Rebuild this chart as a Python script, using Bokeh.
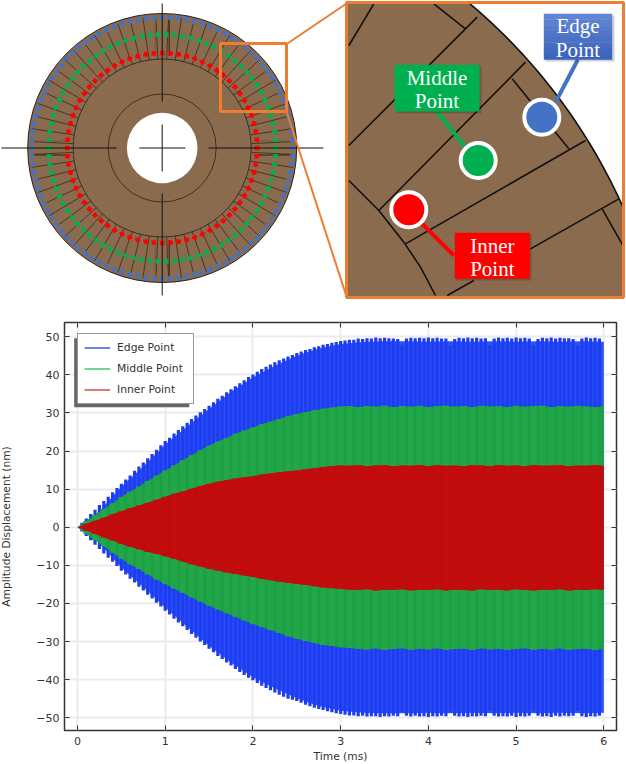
import numpy as np
from bokeh.plotting import figure
from bokeh.embed import file_html
from bokeh.resources import INLINE
from bokeh.core.properties import value
from bokeh.models import Range1d, LinearAxis, Legend, LegendItem, FixedTicker

# ---------- chart data (nm) ----------
series_names = ["Edge Point", "Middle Point", "Inner Point"]
x_ticks = [0, 1, 2, 3, 4, 5, 6]
y_ticks = [-50, -40, -30, -20, -10, 0, 10, 20, 30, 40, 50]

t_fine = np.arange(121) * 0.05
t_mid = np.arange(61) * 0.1
t_coarse = np.arange(25) * 0.25

edge_tip_up = [0,1.15,2.3,3.45,4.6,5.8,6.9,8.0,9.2,10.3,
 11.4,12.5,13.6,14.8,15.9,17.0,18.1,19.2,20.3,21.5,
 22.6,23.5,24.6,25.5,26.5,27.4,28.4,29.3,30.2,31.0,
 31.9,32.8,33.7,34.5,35.4,36.2,37.0,37.8,38.6,39.4,
 40.1,40.8,41.5,42.1,42.7,43.3,43.8,44.3,44.8,45.2,
 45.7,46.1,46.5,46.8,47.2,47.5,47.9,48.1,48.4,48.6,
 48.9,49.0,49.2,49.2,49.5,49.4,49.6,49.5,49.8,49.6,
 49.7,49.6,49.5,49.4,47.9,49.5,49.7,49.6,49.7,49.6,
 49.8,49.6,49.7,49.5,49.5,47.6,49.4,49.7,49.6,49.8,
 49.6,49.7,49.5,49.6,47.8,49.5,49.8,49.6,49.7,49.5,
 49.8,49.6,49.7,49.5,47.7,49.4,49.7,49.6,49.8,49.5,
 49.7,49.6,49.6,49.4,47.6,49.5,49.8,49.6,49.7,49.5,49.6]
edge_tip_low = [0,-1.15,-2.3,-3.4,-4.6,-5.7,-6.9,-8.0,-9.1,-10.2,
 -11.4,-12.4,-13.5,-14.5,-15.6,-16.6,-17.7,-18.7,-19.8,-20.8,
 -21.9,-22.9,-24.0,-25.0,-26.0,-27.0,-28.0,-29.0,-30.0,-30.9,
 -31.9,-32.8,-33.8,-34.6,-35.5,-36.3,-37.2,-38.0,-38.8,-39.5,
 -40.2,-40.9,-41.6,-42.2,-42.8,-43.4,-44.0,-44.5,-45.0,-45.3,
 -45.6,-46.1,-46.6,-47.0,-47.4,-47.7,-48.0,-48.3,-48.6,-48.8,
 -49.0,-49.2,-49.4,-49.4,-49.6,-49.5,-49.7,-49.6,-49.6,-49.8,
 -49.6,-49.7,-49.5,-49.6,-48.4,-49.5,-49.7,-49.5,-49.7,-49.6,
 -49.8,-49.6,-49.7,-49.5,-49.6,-48.3,-49.5,-49.7,-49.6,-49.8,
 -49.6,-49.7,-49.5,-49.6,-48.2,-49.5,-49.7,-49.6,-49.7,-49.5,
 -49.8,-49.6,-49.7,-49.5,-48.3,-49.5,-49.7,-49.6,-49.8,-49.5,
 -49.7,-49.5,-49.6,-49.5,-48.2,-49.6,-49.8,-49.6,-49.7,-49.5,-49.7]
edge_body_up = [0,4.2,10.6,15.9,21.7,26.4,31.0,35.5,39.3,42.4,45.0,46.9,48.1,48.6,48.8,
 48.8,48.7,48.8,48.7,48.8,48.7,48.8,48.7,48.8,48.7]
edge_body_low = [0,-4.2,-10.6,-15.7,-21.1,-26.1,-31.1,-35.5,-39.4,-42.3,-44.9,-46.9,-48.2,-48.7,-48.8,
 -48.8,-48.7,-48.8,-48.7,-48.8,-48.7,-48.8,-48.7,-48.8,-48.7]

middle_up = [0,1.6,3.2,4.8,6.3,7.9,9.3,10.7,12.1,13.5,
 14.9,16.2,17.6,18.9,20.2,21.4,22.5,23.4,24.5,25.4,
 26.2,27.0,27.7,28.4,29.1,29.7,30.2,30.7,31.1,31.4,
 31.7,31.8,31.5,31.8,31.6,31.9,31.5,31.8,31.6,31.9,
 31.5,31.8,31.9,31.6,31.8,31.5,31.9,31.7,31.8,31.5,
 31.9,31.6,31.8,31.9,31.5,31.8,31.6,31.9,31.7,31.5,31.8]
middle_low = [0,-1.7,-3.4,-5.0,-6.7,-8.3,-9.7,-11.0,-12.4,-13.7,
 -14.9,-16.1,-17.2,-18.4,-19.5,-20.6,-21.6,-22.6,-23.5,-24.5,
 -25.4,-26.2,-27.0,-27.8,-28.6,-29.3,-29.9,-30.4,-30.9,-31.2,
 -31.5,-31.7,-31.9,-32.1,-31.8,-32.2,-32.0,-31.8,-32.2,-31.9,
 -32.1,-31.8,-32.2,-32.0,-31.9,-32.2,-31.8,-32.1,-31.9,-32.2,
 -32.0,-31.8,-32.2,-31.9,-32.1,-31.8,-32.2,-32.0,-31.9,-32.2,-32.0]
inner_up = [0,0.9,1.7,2.5,3.4,4.2,5.0,5.7,6.4,7.2,
 8.0,8.8,9.4,10.1,10.8,11.4,11.9,12.4,12.8,13.1,
 13.4,13.8,14.1,14.4,14.7,14.9,15.2,15.5,15.8,16.0,
 16.2,16.1,16.3,16.0,16.2,16.3,16.0,16.2,16.1,16.3,
 16.0,16.3,16.1,16.2,16.0,16.3,16.2,16.0,16.3,16.1,
 16.2,16.0,16.3,16.1,16.2,16.3,16.0,16.2,16.1,16.3,16.1]
inner_low = [0,-0.9,-1.8,-2.7,-3.5,-4.4,-5.1,-5.8,-6.5,-7.0,
 -7.6,-8.3,-9.0,-9.7,-10.3,-10.9,-11.4,-11.9,-12.3,-12.7,
 -13.1,-13.5,-13.9,-14.3,-14.6,-14.9,-15.2,-15.5,-15.8,-16.0,
 -16.2,-16.4,-16.5,-16.3,-16.6,-16.4,-16.5,-16.3,-16.6,-16.4,
 -16.5,-16.3,-16.6,-16.4,-16.5,-16.6,-16.3,-16.5,-16.4,-16.6,
 -16.3,-16.5,-16.6,-16.4,-16.5,-16.3,-16.6,-16.4,-16.5,-16.3,-16.5]

# ---------- schematic (pixel space of the upper panel) ----------
BROWN = "#8B6B4E"; ORANGE = "#ED7D31"; BLUE = "#4472C4"; GREEN = "#00B050"; RED = "#FF0000"
top_h = 305
p1 = figure(width=626, height=top_h, output_backend="svg", toolbar_location=None,
            x_range=Range1d(0, 626), y_range=Range1d(top_h, 0),
            min_border=0, outline_line_color=None, x_axis_type=None, y_axis_type=None)
p1.grid.visible = False

cx, cy = 161.7, 147.5
p1.circle(x=[cx], y=[cy], radius=[134.5], fill_color=BROWN, line_color="#2a2018", line_width=1)
a = (np.arange(64) + 0.5) * 2 * np.pi / 64
p1.segment(cx + 89*np.cos(a), cy + 89*np.sin(a), cx + 132*np.cos(a), cy + 132*np.sin(a),
           line_color="#2a2018", line_width=0.7)
p1.circle(x=[cx], y=[cy], radius=[89], fill_color=BROWN, line_color="#2a2018", line_width=0.8)
p1.circle(x=[cx], y=[cy], radius=[54], fill_color=None, line_color="#2a2018", line_width=0.8)
p1.circle(x=[cx], y=[cy], radius=[35.3], fill_color="white", line_color=None)
for g_off in (-7, 7):
    p1.segment([cx+g_off]*2, [cy-130, cy+92], [cx+g_off]*2, [cy-92, cy+130], line_color="#6d5744" if g_off < 0 else "#2a2018", line_width=1)
    p1.segment([cx-130, cx+92], [cy+g_off]*2, [cx-92, cx+130], [cy+g_off]*2, line_color="#6d5744" if g_off < 0 else "#2a2018", line_width=1)
for r, n, col in ((130.5, 100, BLUE), (113.5, 86, GREEN), (95, 72, RED)):
    b = np.arange(n) * 2 * np.pi / n
    p1.scatter(cx + r*np.cos(b), cy + r*np.sin(b), marker="square", size=4.5, angle=b,
               fill_color=col, line_color=None)
p1.segment([1, 208, 139, cx, cx, cx], [cy]*3 + [3, 124, 193],
           [116, 323, 185, cx, cx, cx], [cy]*3 + [101, 171, 295], line_color="#111111", line_width=1)

# orange zoom frame and connectors
p1.line([287, 346], [43, 3], line_color=ORANGE, line_width=2)
p1.line([286, 346], [111, 296], line_color=ORANGE, line_width=2)
p1.quad(left=[346], right=[623], top=[2], bottom=[297], fill_color=BROWN, line_color=None)
ang = np.linspace(np.arcsin((439-2)/570), np.arcsin((439-208)/570), 40)
ax, ay = 102 + 570*np.cos(ang), 439 - 570*np.sin(ang)
p1.patch(list(ax) + [623], list(ay) + [2], fill_color="white", line_color=None)
p1.line(ax, ay, line_color="#111111", line_width=1.6)
inset_lines = [[(100,10),(25,135)], [(280,10),(375,85)], [(410,50),(25,435)], [(555,185),(115,630)],
               [(515,235),(685,445)], [(735,420),(195,730)], [(25,540),(115,630),(190,725),(240,800),(285,885)],
               [(835,595),(570,745)], [(785,625),(850,740)], [(400,840),(320,885)]]
for seg in inset_lines:
    p1.line([340 + q[0]/3 for q in seg], [q[1]/3 for q in seg], line_color="#111111", line_width=1.6)
p1.quad(left=[220], right=[286], top=[43], bottom=[111], fill_color=None, line_color=ORANGE, line_width=3)
p1.quad(left=[346], right=[623], top=[2], bottom=[297], fill_color=None, line_color=ORANGE, line_width=3)

# callouts
p1.segment([577.3], [59.3], [553.3], [105], line_color=BLUE, line_width=4)
p1.segment([436.7], [111], [466], [148.3], line_color=GREEN, line_width=4)
p1.segment([421.7], [223.3], [453.3], [255], line_color=RED, line_width=4)
p1.circle(x=[541.3, 477.7, 408.3], y=[116.7, 160, 209.3], radius=[17.5]*3,
          fill_color=[BLUE, GREEN, RED], line_color="white", line_width=4)
p1.quad(left=[545, 396, 456], right=[614, 481, 531], top=[15, 66, 234], bottom=[61, 113, 280],
        fill_color="#000000", fill_alpha=0.18, line_color=None)
shades = ["#5F84D2", "#5A80CF", "#557BCC", "#5076C9", "#4B71C6", "#466DC3", "#4168C0", "#3C63BD"]
for i, s in enumerate(shades):
    p1.quad(left=[543.3], right=[611.7], top=[13.3 + i*5.72], bottom=[13.3 + (i+1)*5.72 + 0.3],
            fill_color=s, line_color=None)
p1.quad(left=[394, 454.3], right=[479, 529.3], top=[64.3, 232.3], bottom=[111, 278.3],
        fill_color=[GREEN, RED], line_color=None)
p1.text(x=[577.5, 577.5, 436.5, 436.5, 491.8, 491.8], y=[25.5, 49.5, 77.5, 100.5, 245.5, 268],
        text=["Edge", "Point", "Middle", "Point", "Inner", "Point"],
        text_font=value("Liberation Serif"), text_font_size="21px", text_color="white",
        text_align="center", text_baseline="middle")

# ---------- amplitude plot ----------
xscale = 87.67; yscale = 3.81
p2 = figure(width=630, height=461, output_backend="svg", toolbar_location=None,
            x_range=Range1d(-13/xscale, (616-77.3)/xscale), y_range=Range1d((526.7-730)/yscale, (526.7-322)/yscale),
            min_border_left=68, min_border_right=10, min_border_top=322-top_h, min_border_bottom=36,
            outline_line_color="#333333", outline_line_width=1.5, margin=(0, 0, -2, -4),
            x_axis_label="Time (ms)", y_axis_label="Amplitude Displacement (nm)")
p2.xgrid.ticker = FixedTicker(ticks=x_ticks); p2.ygrid.ticker = FixedTicker(ticks=y_ticks)
for g in (p2.xgrid[0], p2.ygrid[0]):
    g.grid_line_color = "#EBEBEB"; g.grid_line_width = 2
for ax_ in (p2.xaxis[0], p2.yaxis[0]):
    ax_.axis_line_color = None
    ax_.major_tick_in = 5; ax_.major_tick_out = 0; ax_.minor_tick_line_color = None
    ax_.major_tick_line_color = "#333333"
    ax_.major_label_text_font = "DejaVu Sans"; ax_.major_label_text_font_size = "11px"
    ax_.major_label_text_color = "#333333"
    ax_.axis_label_text_font = "DejaVu Sans"; ax_.axis_label_text_font_size = "10.7px"
    ax_.axis_label_text_font_style = "normal"; ax_.axis_label_text_color = "#333333"
p2.xaxis[0].ticker = FixedTicker(ticks=x_ticks); p2.yaxis[0].ticker = FixedTicker(ticks=y_ticks)
p2.xaxis[0].major_label_standoff = 6; p2.yaxis[0].major_label_standoff = 5
p2.xaxis[0].axis_label_standoff = 2; p2.yaxis[0].axis_label_standoff = 20
for loc, tk in (("above", x_ticks), ("right", y_ticks)):
    ex = LinearAxis(ticker=FixedTicker(ticks=tk), major_label_overrides={t: "" for t in tk}, axis_line_color=None,
                    major_tick_in=5, major_tick_out=0, minor_tick_line_color=None, major_tick_line_color="#333333",
                    major_label_standoff=0)
    p2.add_layout(ex, loc)

C_BLUE = "#1E3DF2"; C_GREEN = "#21A747"; C_RED = "#C40C0C"
p2.varea(t_coarse, edge_body_low, edge_body_up, fill_color="#2C52F2")
p2.segment(t_fine[:-1], edge_tip_low[:-1], t_fine[:-1], edge_tip_up[:-1], line_color=C_BLUE, line_width=3.2)
p2.varea(t_mid, middle_low, middle_up, fill_color="#1F9F45")
p2.segment(t_mid[:-1], middle_low[:-1], t_mid[:-1], middle_up[:-1], line_color=C_GREEN, line_width=6)
p2.varea(t_mid, inner_low, inner_up, fill_color="#BC0E0E")
p2.segment(t_mid[:-1], inner_low[:-1], t_mid[:-1], inner_up[:-1], line_color=C_RED, line_width=6)

# legend shadow + legend
p2.quad(left=[-0.038], right=[1.274], top=[49.6], bottom=[31.5], fill_color="#666666", line_color=None)
k1 = p2.line(t_fine[:1], edge_tip_up[:1], line_color="#2F5FE8", line_width=1.5)
k2 = p2.line(t_mid[:1], middle_up[:1], line_color="#3CC86E", line_width=1.5)
k3 = p2.line(t_mid[:1], inner_up[:1], line_color="#D64A4A", line_width=1.5)
leg = Legend(items=[LegendItem(label=value(n), renderers=[r]) for n, r in zip(series_names, (k1, k2, k3))],
             location=(13, 326.5), orientation="vertical", border_line_color="#333333", border_line_width=1.5,
             background_fill_color="white", background_fill_alpha=1, label_text_font="DejaVu Sans",
             label_text_font_size="10.8px", label_text_color="#333333", glyph_width=26, glyph_height=15,
             label_standoff=7, spacing=6, padding=6, margin=0, label_height=15, label_width=70)
p2.add_layout(leg, "center")

open("out.html", "w").write(file_html([p1, p2], INLINE))
